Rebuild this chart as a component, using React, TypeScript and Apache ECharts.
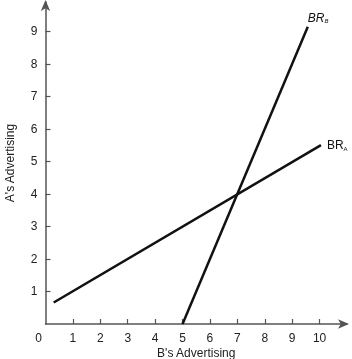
import React, { useEffect, useRef } from "react";
import * as echarts from "echarts";

const xTicks = [1, 2, 3, 4, 5, 6, 7, 8, 9, 10];
const xLabels = [0, 1, 2, 3, 4, 5, 6, 7, 8, 9, 10];
const yTicks = [1, 2, 3, 4, 5, 6, 7, 8, 9];
const brA = [
  [0.3, 0.66],
  [10.05, 5.5],
];
const brB = [
  [5, 0],
  [9.57, 9.14],
];
const xName = "B's Advertising";
const yName = "A's Advertising";

const FONT = "Liberation Sans, Arial, sans-serif";
const AXIS = "#555";

export default function App() {
  const ref = useRef<HTMLDivElement>(null);
  useEffect(() => {
    const chart = echarts.init(ref.current!, null, { renderer: "svg" });
    const sub = {
      b: { fontSize: 12, color: "#111", fontFamily: FONT },
      s: { fontSize: 6, color: "#111", fontFamily: FONT, padding: [7, 0, 0, 0] },
      bi: { fontSize: 12, color: "#111", fontFamily: FONT, fontStyle: "italic" },
      si: { fontSize: 6, color: "#111", fontFamily: FONT, fontStyle: "italic", padding: [7, 0, 0, 0] },
    };
    chart.setOption({
      animation: false,
      textStyle: { fontFamily: FONT },
      grid: {
        left: 45.5,
        right: 5,
        top: 2,
        bottom: 35,
        containLabel: false,
        outerBoundsMode: "none",
      },
      xAxis: {
        type: "value",
        min: 0,
        max: 11,
        interval: 1,
        splitLine: { show: false },
        axisLine: {
          lineStyle: { color: AXIS, width: 1.5 },
          symbol: ["none", "arrow"],
          symbolSize: [7, 11],
          symbolOffset: [0, 2],
        },
        axisTick: {
          inside: true,
          length: 5,
          lineStyle: { color: AXIS, width: 1.2 },
          customValues: xTicks,
        },
        axisLabel: {
          customValues: xLabels,
          color: "#222",
          fontSize: 12,
          margin: 8,
          formatter: (v: number) => (v === 0 ? "{z|0}" : String(v)),
          rich: { z: { fontSize: 12, color: "#222", padding: [0, 14, 0, 0] } },
        },
        name: xName,
        nameLocation: "middle",
        nameGap: 23,
        nameMoveOverlap: false,
        nameTextStyle: { color: "#222", fontSize: 12 },
      },
      yAxis: {
        type: "value",
        min: 0,
        max: 9.9,
        interval: 1,
        splitLine: { show: false },
        axisLine: {
          lineStyle: { color: AXIS, width: 1.5 },
          symbol: ["none", "arrow"],
          symbolSize: [7, 11],
          symbolOffset: [0, 2],
        },
        axisTick: {
          inside: true,
          length: 5,
          lineStyle: { color: AXIS, width: 1.2 },
          customValues: yTicks,
        },
        axisLabel: {
          customValues: yTicks,
          color: "#222",
          fontSize: 12,
          margin: 8,
        },
        name: yName,
        nameLocation: "middle",
        nameGap: 30,
        nameMoveOverlap: false,
        nameTextStyle: { color: "#222", fontSize: 12 },
      },
      series: [
        {
          type: "line",
          data: brA,
          showSymbol: false,
          lineStyle: { color: "#111", width: 2.5 },
          endLabel: {
            show: true,
            distance: 6,
            formatter: () => "{b|BR}{s|A}",
            rich: sub,
          },
        },
        {
          type: "line",
          data: brB,
          showSymbol: false,
          lineStyle: { color: "#111", width: 2.5 },
          endLabel: {
            show: true,
            distance: 0,
            offset: [0, -9],
            formatter: () => "{bi|BR}{si|B}",
            rich: sub,
          },
        },
      ],
    });
    return () => chart.dispose();
  }, []);
  return (
    <div
      ref={ref}
      style={{ position: "fixed", left: 0, top: 0, width: 352, height: 359 }}
    />
  );
}
